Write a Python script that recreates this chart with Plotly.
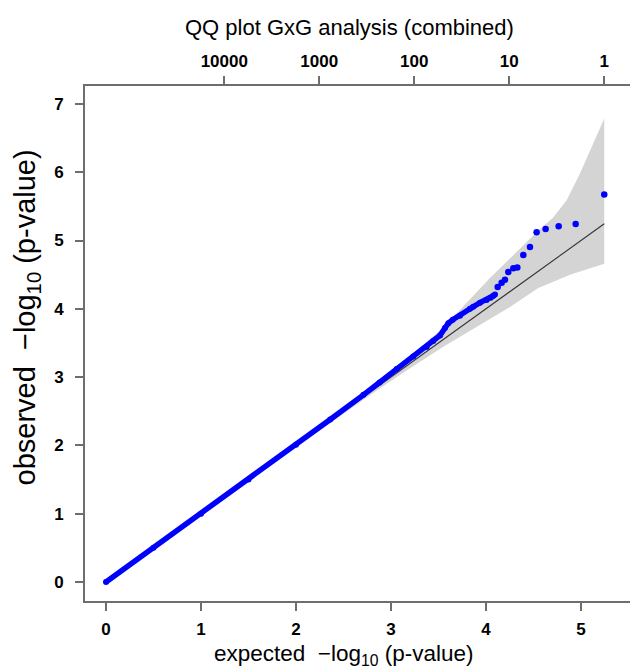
import plotly.graph_objects as go

# ---- data ----
# dense part of the observed-vs-expected curve
dense_x = [0.0, 0.5, 1.0, 1.5, 2.0, 2.36, 2.71, 2.88, 3.06, 3.235, 3.375, 3.445, 3.516,
           3.568, 3.604, 3.65, 3.726, 3.832, 3.866, 3.937, 4.007, 4.05, 4.077, 4.095]
dense_y = [0.0, 0.5, 1.0, 1.5, 2.01, 2.38, 2.74, 2.92, 3.12, 3.30, 3.44, 3.53, 3.61,
           3.72, 3.79, 3.84, 3.90, 4.00, 4.03, 4.09, 4.13, 4.16, 4.19, 4.21]
# individual top-ranked points
tail_x = [4.123, 4.165, 4.2, 4.235, 4.288, 4.33, 4.393, 4.463, 4.533, 4.628, 4.765, 4.944, 5.245]
tail_y = [4.319, 4.383, 4.427, 4.539, 4.593, 4.603, 4.788, 4.905, 5.120, 5.168, 5.208, 5.242, 5.672]
# expected = observed reference line
ref_x = [0.0, 5.245]
ref_y = [0.0, 5.245]
# confidence band edges
band_up_x = [0.0, 2.245, 2.9, 3.245, 3.546, 3.8, 4.042, 4.182, 4.393, 4.533, 4.709, 4.849,
             4.989, 5.06, 5.165, 5.245]
band_up_y = [0.0, 2.28, 2.97, 3.36, 3.72, 4.10, 4.45, 4.64, 4.93, 5.12, 5.34, 5.59,
             5.98, 6.2, 6.55, 6.785]
band_lo_x = [0.0, 2.245, 2.9, 3.245, 3.546, 3.944, 4.245, 4.546, 4.884, 5.245]
band_lo_y = [0.0, 2.22, 2.85, 3.17, 3.44, 3.77, 4.02, 4.30, 4.50, 4.66]
# top axis (number of tests)
top_tick_pos = [1.245, 2.245, 3.245, 4.245, 5.245]
top_tick_text = ["10000", "1000", "100", "10", "1"]
x_ticks = [0, 1, 2, 3, 4, 5]
y_ticks = [0, 1, 2, 3, 4, 5, 6, 7]

FONT = "Liberation Sans, Arial, sans-serif"
AXC = "#6e6e6e"
XR = [-0.221, 5.516]
YR = [-0.278, 7.262]

fig = go.Figure()

poly_x = band_up_x + band_lo_x[::-1]
poly_y = band_up_y + band_lo_y[::-1]
fig.add_trace(go.Scatter(x=poly_x, y=poly_y, fill="toself", fillcolor="#d4d4d4",
                         line=dict(width=0), mode="lines", hoverinfo="skip",
                         showlegend=False))
fig.add_trace(go.Scatter(x=ref_x, y=ref_y, mode="lines",
                         line=dict(color="#333333", width=1.1), showlegend=False))
fig.add_trace(go.Scatter(x=dense_x, y=dense_y, mode="lines+markers",
                         line=dict(color="#0000ff", width=5.5),
                         marker=dict(color="#0000ff", size=6), showlegend=False))
fig.add_trace(go.Scatter(x=tail_x, y=tail_y, mode="markers",
                         marker=dict(color="#0000ff", size=6.5), showlegend=False))
# invisible trace on the top axis
fig.add_trace(go.Scatter(x=[top_tick_pos[0]], y=[0], xaxis="x2", mode="markers",
                         marker=dict(opacity=0), hoverinfo="skip", showlegend=False))

tickfont = dict(family=FONT, size=17, color="black", weight="bold")

fig.update_layout(
    width=630, height=668,
    margin=dict(l=85, r=0, t=86, b=67),
    paper_bgcolor="white", plot_bgcolor="white",
    xaxis=dict(range=XR, tickvals=x_ticks, showgrid=False, zeroline=False,
               showline=True, linecolor=AXC, linewidth=1.6,
               ticks="outside", ticklen=8, tickwidth=1.6, tickcolor=AXC,
               tickfont=tickfont, ticklabelstandoff=4),
    xaxis2=dict(range=XR, overlaying="x", side="top", tickvals=top_tick_pos,
                ticktext=top_tick_text, showgrid=False, zeroline=False,
                showline=True, linecolor=AXC, linewidth=1.6,
                ticks="outside", ticklen=8, tickwidth=1.6, tickcolor=AXC,
                tickfont=tickfont, ticklabelstandoff=2),
    yaxis=dict(range=YR, tickvals=y_ticks, showgrid=False, zeroline=False,
               showline=True, linecolor=AXC, linewidth=1.6,
               ticks="outside", ticklen=8, tickwidth=1.6, tickcolor=AXC,
               tickfont=tickfont, ticklabelstandoff=8),
    annotations=[
        dict(text="QQ plot GxG analysis (combined)", xref="paper", yref="paper",
             x=0.486, y=1.114, xanchor="center", yanchor="middle", showarrow=False,
             font=dict(family=FONT, size=22, color="black")),
        dict(text="expected  \u2212log<sub>10</sub> (p-value)", xref="paper", yref="paper",
             x=0.476, y=-0.104, xanchor="center", yanchor="middle", showarrow=False,
             font=dict(family=FONT, size=22.5, color="black")),
        dict(text="observed  \u2212log<sub>10</sub> (p-value)", xref="paper", yref="paper",
             x=-0.106, y=0.551, xanchor="center", yanchor="middle", showarrow=False,
             textangle=-90, font=dict(family=FONT, size=29, color="black")),
    ],
)

fig.write_html("out.html", config={"displayModeBar": False},
               post_script="document.body.style.margin='0';document.body.style.overflow='hidden';")
